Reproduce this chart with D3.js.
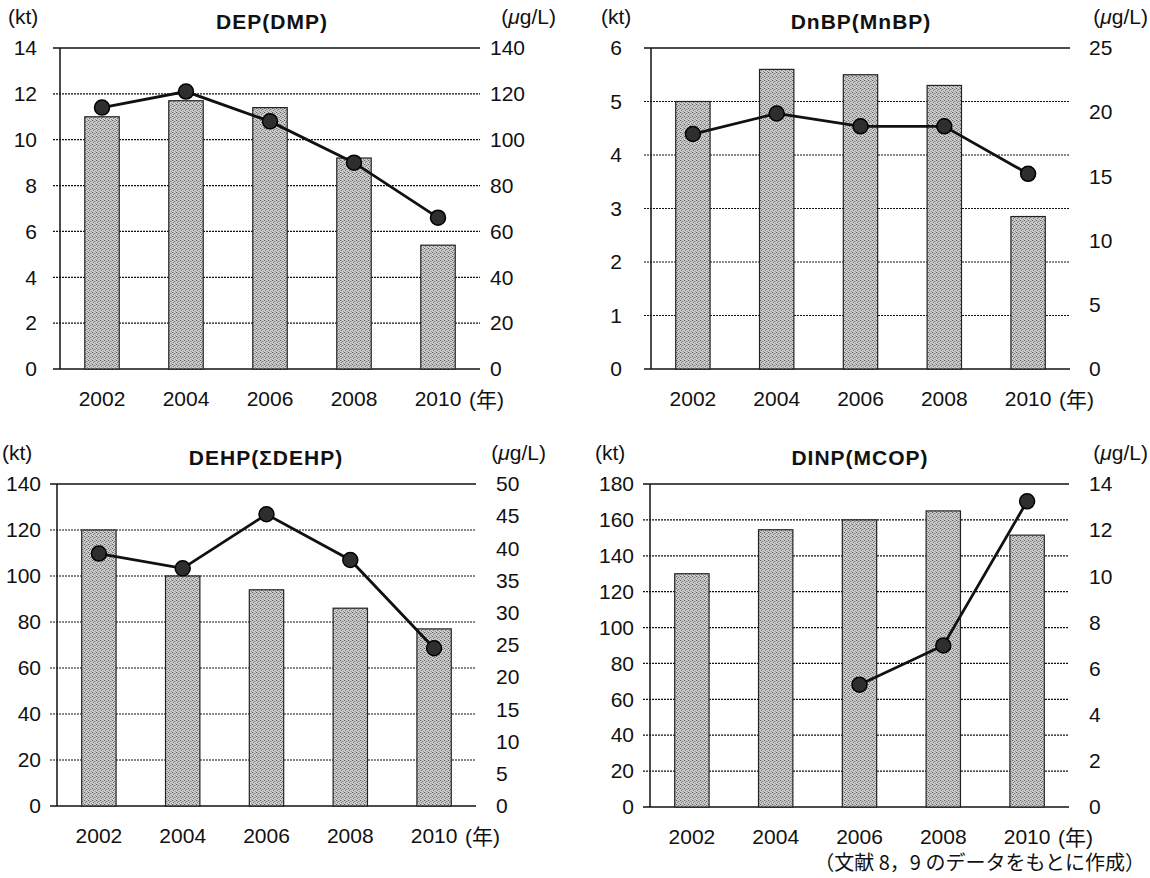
<!DOCTYPE html>
<html>
<head>
<meta charset="utf-8">
<script src="https://cdn.jsdelivr.net/npm/d3@7/dist/d3.min.js"></script>
<style>
  body { margin: 0; background: #fff; }
  svg text { font-family: "Liberation Sans", Arial, "Noto Sans CJK JP", sans-serif; fill: #111; }
</style>
</head>
<body>
<svg id="chart" width="1150" height="878"></svg>
<script>
// data
const years = ["2002", "2004", "2006", "2008", "2010"];

const depBars = [11.0, 11.7, 11.4, 9.2, 5.4];     // kt
const depLine = [114, 121, 108, 90, 66];          // ug/L
const depLeftTicks = [0, 2, 4, 6, 8, 10, 12, 14];
const depRightTicks = [0, 20, 40, 60, 80, 100, 120, 140];

const dnbpBars = [5.0, 5.6, 5.5, 5.3, 2.85];
const dnbpLine = [18.3, 19.9, 18.9, 18.9, 15.2];
const dnbpLeftTicks = [0, 1, 2, 3, 4, 5, 6];
const dnbpRightTicks = [0, 5, 10, 15, 20, 25];

const dehpBars = [120, 100, 94, 86, 77];
const dehpLine = [39.2, 36.9, 45.3, 38.2, 24.5];
const dehpLeftTicks = [0, 20, 40, 60, 80, 100, 120, 140];
const dehpRightTicks = [0, 5, 10, 15, 20, 25, 30, 35, 40, 45, 50];

const dinpBars = [130, 154.5, 160, 165, 151.5];
const dinpLine = [null, null, 5.3, 7.0, 13.25];
const dinpLeftTicks = [0, 20, 40, 60, 80, 100, 120, 140, 160, 180];
const dinpRightTicks = [0, 2, 4, 6, 8, 10, 12, 14];

const caption = "（文献 8，9 のデータをもとに作成）";

const svg = d3.select("#chart");

// stipple texture for the bars
const defs = svg.append("defs");
const pat = defs.append("pattern")
  .attr("id", "stipple")
  .attr("width", 4).attr("height", 4)
  .attr("patternUnits", "userSpaceOnUse");
pat.append("rect").attr("width", 4).attr("height", 4).attr("fill", "#cdcdcd");
[[0,0,"#5e5e5e"],[2,1,"#7e7e7e"],[1,2,"#6e6e6e"],[3,3,"#8a8a8a"],[3,1,"#a8a8a8"],[1,0,"#b0b0b0"]].forEach(function(d){
  pat.append("rect").attr("x", d[0]).attr("y", d[1]).attr("width", 1).attr("height", 1).attr("fill", d[2]);
});

const panels = [
  { title: "DEP(DMP)", bars: depBars, line: depLine, lt: depLeftTicks, rt: depRightTicks,
    x0: 60, x1: 480, top: 48, bottom: 369, lpad: 23, rpad: 10, titleX: 272, ktX: 8, unitX: 556 },
  { title: "DnBP(MnBP)", bars: dnbpBars, line: dnbpLine, lt: dnbpLeftTicks, rt: dnbpRightTicks,
    x0: 651, x1: 1070, top: 48, bottom: 369, lpad: 29, rpad: 19, titleX: 861, ktX: 601, unitX: 1148 },
  { title: "DEHP(ΣDEHP)", bars: dehpBars, line: dehpLine, lt: dehpLeftTicks, rt: dehpRightTicks,
    x0: 57, x1: 476, top: 484, bottom: 806, lpad: 16, rpad: 20, titleX: 266, ktX: 2, unitX: 546 },
  { title: "DINP(MCOP)", bars: dinpBars, line: dinpLine, lt: dinpLeftTicks, rt: dinpRightTicks,
    x0: 650, x1: 1069, top: 484, bottom: 807, lpad: 16, rpad: 20, titleX: 860, ktX: 595, unitX: 1148 }
];

panels.forEach(function(p){
  const g = svg.append("g");

  const x = d3.scaleBand().domain(years).range([p.x0, p.x1])
    .paddingInner(0.59).paddingOuter(0.295);
  const yL = d3.scaleLinear().domain([0, d3.max(p.lt)]).range([p.bottom, p.top]);
  const yR = d3.scaleLinear().domain([0, d3.max(p.rt)]).range([p.bottom, p.top]);

  // grid lines (dotted inside, solid top and bottom)
  g.selectAll("line.grid").data(p.lt).join("line")
    .attr("class", "grid")
    .attr("x1", p.x0 - 7).attr("x2", p.x1)
    .attr("y1", d => yL(d)).attr("y2", d => yL(d))
    .attr("stroke", "#111")
    .attr("stroke-width", d => (d === 0 || d === d3.max(p.lt)) ? 1.5 : 1.2)
    .attr("stroke-dasharray", d => (d === 0 || d === d3.max(p.lt)) ? null : "2,1");

  // left vertical axis line
  g.append("line")
    .attr("x1", p.x0).attr("x2", p.x0)
    .attr("y1", p.top).attr("y2", p.bottom)
    .attr("stroke", "#111").attr("stroke-width", 1.5);

  // bars
  g.selectAll("rect.bar").data(p.bars).join("rect")
    .attr("class", "bar")
    .attr("x", (d, i) => x(years[i]))
    .attr("width", x.bandwidth())
    .attr("y", d => yL(d))
    .attr("height", d => p.bottom - yL(d))
    .attr("fill", "url(#stipple)")
    .attr("stroke", "#222").attr("stroke-width", 1.2);

  // left axis labels
  const axL = g.append("g").attr("transform", "translate(" + p.x0 + ",0)")
    .call(d3.axisLeft(yL).tickValues(p.lt).tickFormat(d => String(d)).tickSize(0).tickPadding(p.lpad));
  axL.select(".domain").remove();
  axL.attr("font-size", 21).selectAll("text").attr("font-size", 21).style("font-family", null);

  // right axis labels
  const axR = g.append("g").attr("transform", "translate(" + p.x1 + ",0)")
    .call(d3.axisRight(yR).tickValues(p.rt).tickFormat(d => String(d)).tickSize(0).tickPadding(p.rpad));
  axR.select(".domain").remove();
  axR.attr("font-size", 21).selectAll("text").attr("font-size", 21).style("font-family", null);

  // x labels
  const axX = g.append("g").attr("transform", "translate(0," + p.bottom + ")")
    .call(d3.axisBottom(x).tickSize(0).tickPadding(22));
  axX.select(".domain").remove();
  axX.attr("font-size", 21).selectAll("text").attr("font-size", 21).style("font-family", null);
  g.append("text")
    .attr("x", x("2010") + x.bandwidth() / 2 + 31)
    .attr("y", p.bottom + 38)
    .attr("font-size", 21)
    .text("(年)");

  // line series on right scale
  const pts = p.line.map((v, i) => ({ yr: years[i], v: v })).filter(d => d.v != null);
  g.append("path").datum(pts)
    .attr("fill", "none").attr("stroke", "#111").attr("stroke-width", 2.8)
    .attr("d", d3.line().x(d => x(d.yr) + x.bandwidth() / 2).y(d => yR(d.v)));
  g.selectAll("circle.pt").data(pts).join("circle")
    .attr("class", "pt")
    .attr("cx", d => x(d.yr) + x.bandwidth() / 2)
    .attr("cy", d => yR(d.v))
    .attr("r", 7.5)
    .attr("fill", "#2e2e2e").attr("stroke", "#000").attr("stroke-width", 1.5);

  // title and unit labels
  g.append("text")
    .attr("x", p.titleX).attr("y", p.top - 19)
    .attr("text-anchor", "middle")
    .attr("font-size", 21).attr("font-weight", "bold")
    .attr("letter-spacing", 1)
    .text(p.title);
  g.append("text")
    .attr("x", p.ktX).attr("y", p.top - 24)
    .attr("font-size", 21)
    .text("(kt)");
  const u = g.append("text")
    .attr("x", p.unitX).attr("y", p.top - 24)
    .attr("text-anchor", "end")
    .attr("font-size", 21);
  u.append("tspan").text("(");
  u.append("tspan").attr("font-style", "italic").text("μ");
  u.append("tspan").text("g/L)");
});

svg.append("text")
  .attr("x", 1145).attr("y", 870)
  .attr("text-anchor", "end")
  .attr("font-size", 20)
  .style("font-family", "'Noto Sans CJK JP', sans-serif")
  .text(caption);
</script>
</body>
</html>
